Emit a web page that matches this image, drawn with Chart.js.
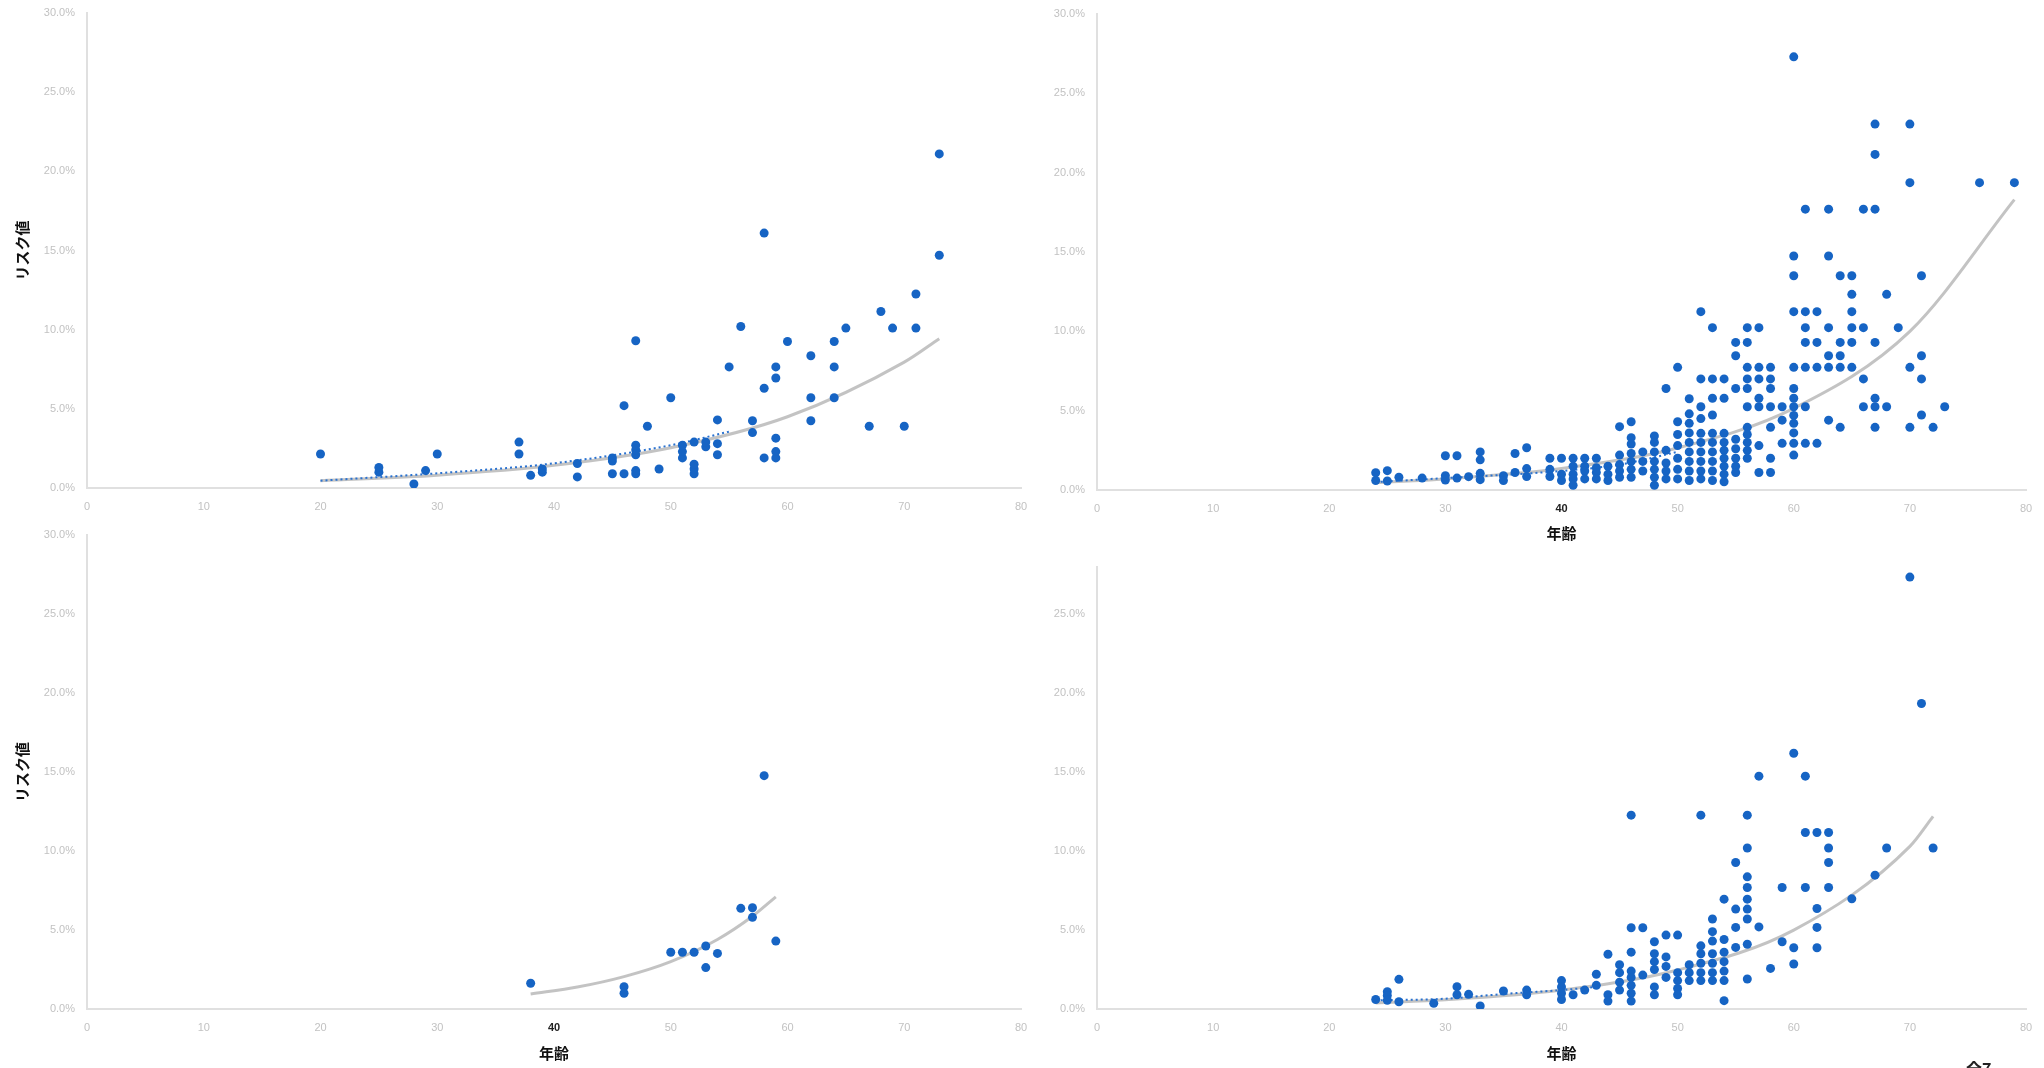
<!DOCTYPE html>
<html lang="ja">
<head>
<meta charset="utf-8">
<title>リスク値と年齢</title>
<script src="https://cdn.jsdelivr.net/npm/chart.js@4.4.1/dist/chart.umd.min.js"></script>
<style>
html, body { margin: 0; padding: 0; background: #fff; width: 2044px; height: 1068px; overflow: hidden; }
canvas { position: absolute; }
#cutLabel { position: absolute; left: 1966px; top: 1056px; font: bold 16px 'Noto Sans CJK JP', sans-serif; color: #222; }
</style>
</head>
<body>
<canvas id="chart1"></canvas>
<canvas id="chart2"></canvas>
<canvas id="chart3"></canvas>
<canvas id="chart4"></canvas>
<div id="cutLabel">全7</div>
<script>
// tick labels
const AGE_TICKS = [0, 10, 20, 30, 40, 50, 60, 70, 80];
const RISK_TICKS = [0, 5, 10, 15, 20, 25, 30];

// top-left panel: ages and the risk values (%) plotted at each age
const p1Ages = [20, 25, 28, 29, 30, 37, 38, 39, 42, 45, 46, 47, 48, 49, 50, 51, 52, 53, 54, 55, 56, 57, 58, 59, 60, 62, 64, 65, 67, 68, 69, 70, 71, 73];
const p1Risks = [
    [2.15], [1.0, 1.3], [0.25], [1.1], [2.15], [2.9, 2.15], [0.8], [1.0, 1.2], [1.55, 0.7], [1.7, 1.9, 0.9],
    [5.2, 0.9], [9.3, 2.1, 2.4, 2.7, 0.9, 1.1], [3.9], [1.2], [5.7], [1.9, 2.3, 2.7], [2.9, 0.9, 1.2, 1.5], [2.6, 2.9],
    [4.3, 2.8, 2.1], [7.65], [10.2], [4.25, 3.5], [16.1, 6.3, 1.9], [7.65, 6.95, 3.15, 1.9, 2.3], [9.25],
    [8.35, 5.7, 4.25], [9.25, 7.65, 5.7], [10.1], [3.9], [11.15], [10.1], [3.9], [12.25, 10.1], [21.1, 14.7]
];
const p1TrendAges = [20, 30, 40, 50, 60, 70, 73];
const p1TrendRisks = [0.46, 0.81, 1.43, 2.54, 4.5, 7.95, 9.43];
const p1DotAges = [20, 30, 40, 50, 55];
const p1DotRisks = [0.46, 0.93, 1.56, 2.7, 3.56];

// top-right panel
const p2Ages = [24, 25, 26, 28, 30, 31, 32, 33, 35, 36, 37, 39, 40, 41, 42, 43, 44, 45, 46, 47, 48, 49, 50, 51, 52, 53, 54, 55, 56, 57, 58, 59, 60, 61, 62, 63, 64, 65, 66, 67, 68, 69, 70, 71, 72, 73, 76, 79];
const p2Risks = [
    [1.09, 0.6], [1.22, 0.57], [0.8], [0.75], [2.16, 0.9, 0.63], [2.16, 0.75], [0.84], [2.4, 1.9, 1.05, 0.65],
    [0.9, 0.6], [2.3, 1.1], [2.66, 1.35, 0.85], [2.0, 1.3, 0.85], [2.0, 1.0, 0.6], [2.0, 1.5, 1.0, 0.7, 0.3],
    [2.0, 1.5, 1.2, 0.7], [2.0, 1.4, 1.1, 0.7], [1.5, 1.0, 0.6], [3.99, 2.2, 1.6, 1.2, 0.8],
    [4.3, 3.3, 2.9, 2.3, 1.8, 1.3, 0.8], [2.4, 1.8, 1.2], [3.4, 3.0, 2.4, 1.8, 1.3, 0.8, 0.3],
    [6.4, 2.5, 1.7, 1.2, 0.7], [7.73, 4.3, 3.5, 2.8, 2.0, 1.3, 0.7], [5.75, 4.8, 4.2, 3.6, 3.0, 2.4, 1.8, 1.2, 0.6],
    [11.24, 7.0, 5.25, 4.5, 3.57, 3.0, 2.4, 1.8, 1.2, 0.7], [10.23, 7.0, 5.78, 4.73, 3.57, 3.0, 2.4, 1.8, 1.2, 0.6],
    [7.0, 5.78, 3.57, 3.0, 2.5, 2.0, 1.5, 1.0, 0.52], [9.3, 8.46, 6.4, 3.2, 2.6, 2.0, 1.5, 1.1],
    [10.23, 9.3, 7.73, 7.0, 6.4, 5.25, 3.95, 3.5, 3.0, 2.5, 2.0], [10.23, 7.73, 7.0, 5.78, 5.25, 2.8, 1.1],
    [7.73, 7.0, 6.4, 5.25, 3.95, 2.0, 1.1], [5.25, 4.4, 2.94],
    [27.3, 14.75, 13.5, 11.24, 7.73, 6.4, 5.78, 5.25, 4.7, 4.2, 3.6, 2.94, 2.2],
    [17.7, 11.24, 10.23, 9.3, 7.73, 5.25, 2.94], [11.24, 9.3, 7.73, 2.94], [17.7, 14.75, 10.23, 8.46, 7.73, 4.4],
    [13.5, 9.3, 8.46, 7.73, 3.95], [13.5, 12.33, 11.24, 10.23, 9.3, 7.73], [17.7, 10.23, 7.0, 5.25],
    [23.06, 21.15, 17.7, 9.3, 5.78, 5.25, 3.95], [12.33, 5.25], [10.23], [23.06, 19.37, 7.73, 3.95],
    [13.5, 8.46, 7.0, 4.73], [3.95], [5.25], [19.37], [19.37]
];
const p2TrendAges = [24, 30, 40, 50, 60, 70, 79];
const p2TrendRisks = [0.47, 0.7, 1.36, 2.65, 5.15, 10.0, 18.3];
const p2DotAges = [24, 30, 40, 45, 50];
const p2DotRisks = [0.5, 0.75, 1.2, 1.6, 2.4];

// bottom-left panel
const p3Ages = [38, 46, 50, 51, 52, 53, 54, 56, 57, 58, 59];
const p3Risks = [[1.63], [1.41, 1.0], [3.59], [3.59], [3.59], [3.99, 2.62], [3.52], [6.37], [6.41, 5.8], [14.77], [4.3]];
const p3TrendAges = [38, 42, 46, 50, 54, 57, 59];
const p3TrendRisks = [0.95, 1.39, 2.05, 3.0, 4.4, 5.87, 7.1];

// bottom-right panel
const p4Ages = [24, 25, 26, 29, 31, 32, 33, 35, 37, 40, 41, 42, 43, 44, 45, 46, 47, 48, 49, 50, 51, 52, 53, 54, 55, 56, 57, 58, 59, 60, 61, 62, 63, 65, 67, 68, 70, 71, 72];
const p4Risks = [
    [0.6], [1.1, 0.85, 0.55], [1.88, 0.46], [0.36], [1.41, 0.9], [0.93], [0.19], [1.14], [1.2, 0.9],
    [1.8, 1.4, 1.0, 0.6], [0.9], [1.2], [2.2, 1.5], [3.47, 0.9, 0.5], [2.8, 2.3, 1.7, 1.2],
    [12.28, 5.15, 3.6, 2.4, 2.0, 1.5, 1.0, 0.5], [5.15, 2.15], [4.26, 3.5, 3.0, 2.5, 1.4, 0.9],
    [4.68, 3.3, 2.7, 2.0], [4.68, 2.3, 1.8, 1.3, 0.9], [2.8, 2.3, 1.8], [12.28, 4.0, 3.5, 2.9, 2.3, 1.8],
    [5.7, 4.9, 4.3, 3.5, 2.9, 2.3, 1.8], [6.96, 4.4, 3.6, 3.0, 2.4, 1.8, 0.53], [9.28, 6.33, 5.17, 3.9],
    [12.28, 10.2, 8.37, 7.7, 6.96, 6.33, 5.7, 4.1, 1.9], [14.75, 5.2], [2.57], [7.7, 4.26], [16.2, 3.88, 2.85],
    [14.75, 11.18, 7.7], [11.18, 6.37, 5.17, 3.88], [11.18, 10.2, 9.28, 7.7], [6.98], [8.48], [10.2],
    [27.36], [19.35], [10.2]
];
const p4TrendAges = [24, 30, 40, 50, 60, 70, 72];
const p4TrendRisks = [0.38, 0.58, 1.2, 2.47, 5.0, 10.3, 12.2];
const p4DotAges = [24, 30, 35, 40, 43];
const p4DotRisks = [0.55, 0.65, 0.95, 1.2, 1.4];

const DOT_COLOR = '#1664c4';
const TREND_GRAY = 'rgba(185, 185, 185, 0.85)';
const TICK_GRAY = '#c2c2c2';
const AXIS_GRAY = '#e0e0e0';
const TITLE_FONT = { family: "'Noto Sans CJK JP', sans-serif", size: 15, weight: 'bold' };

function toPoints(ages, risks) {
    const pts = [];
    ages.forEach((a, i) => risks[i].forEach(r => pts.push({ x: a, y: r })));
    return pts;
}

function toLine(ages, risks) {
    return ages.map((a, i) => ({ x: a, y: risks[i] }));
}

function makeChart(id, g, points, trend, dotted) {
    const canvas = document.getElementById(id);
    canvas.width = g.w;
    canvas.height = g.h;
    canvas.style.left = g.x + 'px';
    canvas.style.top = g.y + 'px';

    const datasets = [{
        type: 'scatter', data: points, backgroundColor: DOT_COLOR, borderWidth: 0,
        pointRadius: 4.5, order: 0
    }];
    if (dotted) {
        datasets.push({
            type: 'line', data: dotted, borderColor: '#2a72d0', borderWidth: 2, borderDash: [2, 3],
            pointRadius: 0, fill: false, cubicInterpolationMode: 'monotone', order: 1
        });
    }
    if (trend) {
        datasets.push({
            type: 'line', data: trend, borderColor: TREND_GRAY, borderWidth: 3,
            pointRadius: 0, fill: false, cubicInterpolationMode: 'monotone', order: 2
        });
    }

    const tickColor = ctx => (g.dark40 && ctx.tick && ctx.tick.value === 40) ? '#222' : TICK_GRAY;
    const tickFont = ctx => ({
        family: "'Liberation Sans', sans-serif", size: 11,
        weight: (g.dark40 && ctx.tick && ctx.tick.value === 40) ? 'bold' : 'normal'
    });

    return new Chart(canvas, {
        type: 'scatter',
        data: { datasets },
        options: {
            responsive: false,
            animation: false,
            events: [],
            layout: { padding: { left: 0, top: g.top, right: g.w - g.right, bottom: 0 } },
            plugins: { legend: { display: false }, tooltip: { enabled: false } },
            scales: {
                x: {
                    type: 'linear', min: 0, max: 80,
                    grid: { display: false, drawTicks: false },
                    border: { display: true, color: AXIS_GRAY, width: 2 },
                    ticks: { color: tickColor, font: tickFont, padding: 12, maxRotation: 0 },
                    title: { display: !!g.xTitle, text: '年齢', color: '#111', font: TITLE_FONT, padding: { top: 0, bottom: g.xTitlePad || 0 } },
                    afterBuildTicks: s => { s.ticks = AGE_TICKS.map(v => ({ value: v })); },
                    afterFit: s => { s.height = g.h - g.bottom; s.paddingLeft = 0; s.paddingRight = 0; }
                },
                y: {
                    type: 'linear', min: 0, max: g.yMax,
                    grid: { display: false, drawTicks: false },
                    border: { display: true, color: AXIS_GRAY, width: 2 },
                    ticks: { color: TICK_GRAY, font: { family: "'Liberation Sans', sans-serif", size: 11 }, padding: 12, callback: v => v.toFixed(1) + '%' },
                    title: { display: !!g.yTitle, text: 'リスク値', color: '#111', font: TITLE_FONT, padding: { top: 13, bottom: 0 } },
                    afterBuildTicks: s => { s.ticks = RISK_TICKS.filter(v => v <= g.yMax).map(v => ({ value: v })); },
                    afterFit: s => { s.width = g.left; s.paddingTop = 0; s.paddingBottom = 0; }
                }
            }
        }
    });
}

makeChart('chart1',
    { x: 0, y: 0, w: 1030, h: 520, left: 87, right: 1021, top: 13, bottom: 488, yMax: 30, yTitle: true },
    toPoints(p1Ages, p1Risks), toLine(p1TrendAges, p1TrendRisks), toLine(p1DotAges, p1DotRisks));

makeChart('chart2',
    { x: 1030, y: 0, w: 1014, h: 545, left: 67, right: 996, top: 14, bottom: 490, yMax: 30, xTitle: true, xTitlePad: 3, dark40: true },
    toPoints(p2Ages, p2Risks), toLine(p2TrendAges, p2TrendRisks), toLine(p2DotAges, p2DotRisks));

makeChart('chart3',
    { x: 0, y: 522, w: 1030, h: 546, left: 87, right: 1021, top: 13, bottom: 487, yMax: 30, yTitle: true, xTitle: true, xTitlePad: 6, dark40: true },
    toPoints(p3Ages, p3Risks), toLine(p3TrendAges, p3TrendRisks), null);

makeChart('chart4',
    { x: 1030, y: 545, w: 1014, h: 523, left: 67, right: 996, top: 22, bottom: 464, yMax: 28, xTitle: true, xTitlePad: 6 },
    toPoints(p4Ages, p4Risks), toLine(p4TrendAges, p4TrendRisks), toLine(p4DotAges, p4DotRisks));
</script>
</body>
</html>
